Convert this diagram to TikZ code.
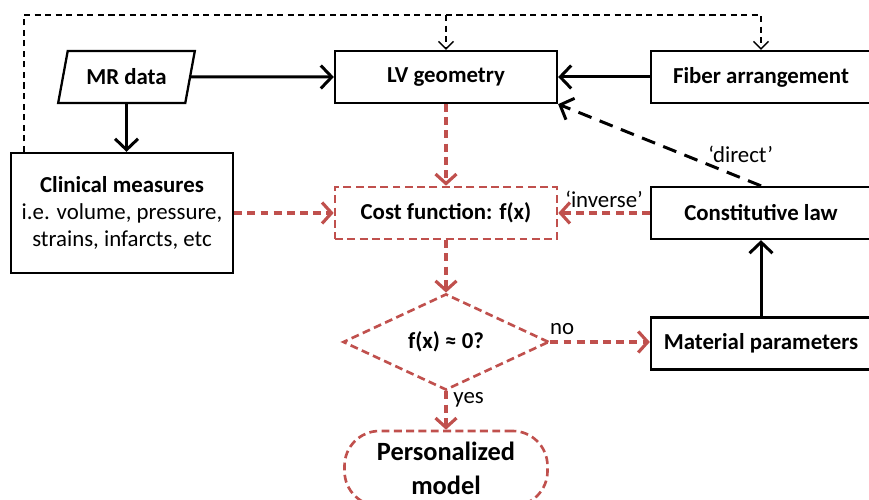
\documentclass[tikz,border=0pt]{standalone}
\usepackage{fontspec}
\setmainfont{Carlito}
\usetikzlibrary{arrows.meta}
\usetikzlibrary{calc,shapes.geometric}
\definecolor{rouge}{HTML}{C0504D}

\begin{document}
\begin{tikzpicture}[
	boite/.style={draw,line width=1.3pt,minimum width=4.44cm,minimum height=1.04cm,inner sep=2pt,font=\fontsize{13}{16}\selectfont\bfseries},
	boiterouge/.style={boite,draw=rouge,line width=1.5pt,dash pattern=on 4.5pt off 2.5pt},
	plein/.style={line width=1.7pt,-{Straight Barb[length=2.2mm,width=4.6mm]}},
	pointille/.style={rouge,line width=1.8pt,dash pattern=on 4.5pt off 3pt,-{Straight Barb[length=1.9mm,width=4.2mm]}},
	retro/.style={line width=0.8pt,dash pattern=on 3.5pt off 2.5pt,-{Straight Barb[length=1.5mm,width=3mm]}},
	lbl/.style={text=black,font=\fontsize{13}{15}\selectfont}
]
				\useasboundingbox (0,0) rectangle (17.38,10);
				% Boîtes
				\node[trapezium,trapezium left angle=75,trapezium right angle=105,trapezium stretches=true,draw,line width=1.3pt,minimum height=1.04cm,minimum width=2.74cm,font=\fontsize{13}{16}\selectfont\bfseries] (mr) at (2.53,8.46) {MR data};
				\node[boite] (lv) at (8.92,8.46) {LV geometry};
				\node[boite,minimum width=4.4cm] (fib) at (15.22,8.46) {Fiber arrangement};
				\node[boite,minimum height=2.4cm,align=center,font=\fontsize{13}{15.5}\selectfont] (clin) at (2.44,5.74) {\textbf{Clinical measures}\\i.e. volume, pressure,\\strains, infarcts, etc};
				\node[boiterouge] (cout) at (8.92,5.74) {Cost function: f(x)};
				\node[boite,minimum width=4.4cm] (loi) at (15.22,5.74) {Constitutive law};
				\node[diamond,draw=rouge,line width=1.5pt,dash pattern=on 4.5pt off 2.5pt,minimum width=4.12cm,minimum height=1.68cm,inner sep=0pt,font=\fontsize{13}{16}\selectfont\bfseries] (test) at (8.92,3.16) {f(x) ≈ 0?};
				\node[boite,minimum width=4.4cm] (mat) at (15.22,3.13) {Material parameters};
				\node[boiterouge,rounded corners=0.7cm,minimum width=4.06cm,minimum height=1.5cm,align=center,font=\fontsize{15}{19.5}\selectfont\bfseries] (perso) at (8.92,0.63) {Personalized\\model};
				% Flèches
				\coordinate (haut) at (0,9.7);
				\draw[retro] ([xshift=0.28cm]clin.north west) |- (haut -| fib.north) -- (fib.north);
				\draw[retro] (lv.north |- haut) -- (lv.north);
				\draw[plein] (mr.east) -- (lv.west);
				\draw[plein] (mr.south) -- (mr.south |- clin.north);
				\draw[plein] (fib.west) -- (lv.east);
				\draw[plein] (mat.north) -- (loi.south);
				\draw[plein,dash pattern=on 8pt off 5pt] (loi.north) -- (lv.south east) node[pos=0.1,above=4.5pt,lbl]{‘direct’};
				\draw[pointille] (lv.south) -- (cout.north);
				\draw[pointille] (clin.east) -- (cout.west);
				\draw[pointille] (loi.west) -- (cout.east) node[midway,above=-1pt,lbl]{‘inverse’};
				\draw[pointille] (cout.south) -- (test.north);
				\draw[pointille] (test.east) -- (test.east -| mat.west) node[pos=0.12,above,lbl]{no};
				\draw[pointille] (test.south) -- (perso.north) node[pos=0.22,right,lbl]{yes};
\end{tikzpicture}
\end{document}
